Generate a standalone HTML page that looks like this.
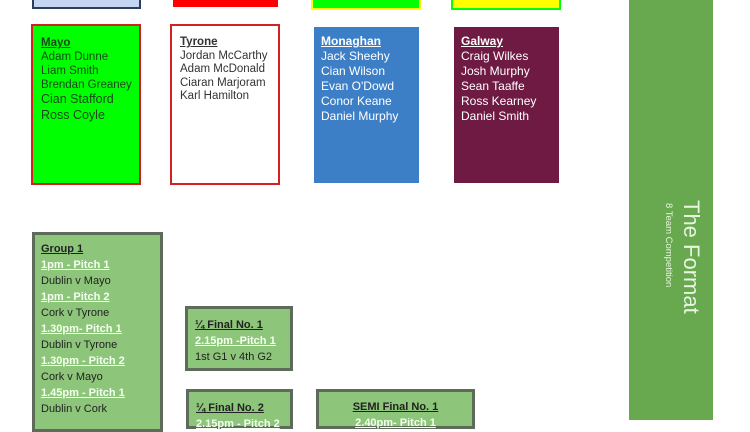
<!DOCTYPE html>
<html><head><style>
body{margin:0;width:750px;height:420px;background:#fff;position:relative;overflow:hidden;font-family:"Liberation Sans",sans-serif;}
.b{position:absolute;box-sizing:border-box;}
.t{font-size:11px;line-height:15px;color:#222;padding:10px 0 0 8px;}
.t u{font-weight:bold;}
.w{color:#fff;font-size:12px;}
.g{background:#8dc57a;border:3px solid #5e6a5a;}
.g .l{color:#f4fff0;font-weight:bold;text-decoration:underline;}
</style></head><body>
<div class="b" style="left:32px;top:-4px;width:109px;height:13px;background:#c6d6f0;border:2px solid #2c3e5e"></div>
<div class="b" style="left:173px;top:-4px;width:105px;height:11px;background:#f00"></div>
<div class="b" style="left:311px;top:-4px;width:110px;height:14px;background:#0f0;border:2px solid #ff0"></div>
<div class="b" style="left:451px;top:-4px;width:110px;height:14px;background:#ff0;border:2px solid #0f0"></div>

<div class="b t" style="left:31px;top:24px;width:110px;height:161px;background:#0f0;border:2px solid #d42020;color:#1a4a1a;padding:10px 0 0 8px;line-height:14px;font-size:11.5px"><u>Mayo</u><br>Adam Dunne<br>Liam Smith<br>Brendan Greaney<br><span style="font-size:12.5px">Cian Stafford</span><br><span style="font-size:12.5px;line-height:16px">Ross Coyle</span></div>
<div class="b t" style="left:170px;top:24px;width:110px;height:161px;background:#fff;border:2px solid #d42020;color:#333;padding:10px 0 0 8px;line-height:13.5px;font-size:11.5px"><u>Tyrone</u><br>Jordan McCarthy<br>Adam McDonald<br>Ciaran Marjoram<br>Karl Hamilton</div>
<div class="b t w" style="left:314px;top:27px;width:105px;height:156px;background:#3d7fc6;padding:7px 0 0 7px;"><u>Monaghan</u><br>Jack Sheehy<br>Cian Wilson<br>Evan O'Dowd<br>Conor Keane<br>Daniel Murphy</div>
<div class="b t w" style="left:454px;top:27px;width:105px;height:156px;background:#6e1a42;padding:7px 0 0 7px;"><u>Galway</u><br>Craig Wilkes<br>Josh Murphy<br>Sean Taaffe<br>Ross Kearney<br>Daniel Smith</div>

<div class="b" style="left:629px;top:0;width:84px;height:420px;background:#68a84f"></div>
<div class="b" style="left:676px;top:200px;width:30px;height:120px;"><div style="position:absolute;left:0;top:0;transform-origin:0 0;transform:rotate(90deg) translate(0,-28px);white-space:nowrap;color:#e8f5e0;font-size:22px;line-height:26px">The Format</div></div>
<div class="b" style="left:662px;top:203px;width:14px;height:110px;"><div style="position:absolute;left:0;top:0;transform-origin:0 0;transform:rotate(90deg) translate(0,-12px);white-space:nowrap;color:#e8f5e0;font-size:9.5px;line-height:12px">8 Team Competition</div></div>

<div class="b g t" style="left:32px;top:232px;width:131px;height:200px;line-height:16px;padding:6px 0 0 6px"><u>Group 1</u><br><span class="l">1pm - Pitch 1</span><br>Dublin v Mayo<br><span class="l">1pm - Pitch 2</span><br>Cork v Tyrone<br><span class="l">1.30pm- Pitch 1</span><br>Dublin v Tyrone<br><span class="l">1.30pm - Pitch 2</span><br>Cork v Mayo<br><span class="l">1.45pm - Pitch 1</span><br>Dublin v Cork</div>
<div class="b g t" style="left:185px;top:306px;width:108px;height:65px;line-height:16px;padding:8px 0 0 7px"><u>¼ Final No. 1</u><br><span class="l">2.15pm -Pitch 1</span><br>1st G1 v 4th G2</div>
<div class="b g t" style="left:186px;top:389px;width:107px;height:40px;line-height:16px;padding:8px 0 0 7px"><u>¼ Final No. 2</u><br><span class="l">2.15pm - Pitch 2</span></div>
<div class="b g t" style="left:316px;top:389px;width:159px;height:40px;line-height:16px;padding:7px 0 0 0;text-align:center"><u>SEMI Final No. 1</u><br><span class="l">2.40pm- Pitch 1</span></div>
</body></html>
